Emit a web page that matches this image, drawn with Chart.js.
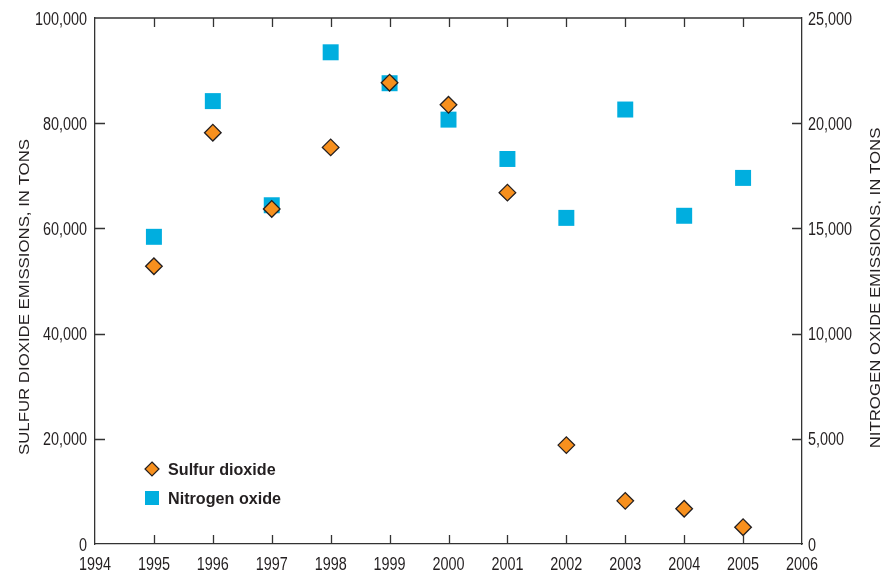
<!DOCTYPE html>
<html>
<head>
<meta charset="utf-8">
<script src="https://cdn.jsdelivr.net/npm/chart.js@4.4.1/dist/chart.umd.min.js"></script>
<style>
  html, body { margin: 0; padding: 0; background: #fff; }
  #wrap { width: 881px; height: 571px; }
</style>
</head>
<body>
<div id="wrap"><canvas id="emissionsChart" width="881" height="571"></canvas></div>
<script>
// data ----------------------------------------------------------------------
const years = [1995, 1996, 1997, 1998, 1999, 2000, 2001, 2002, 2003, 2004, 2005];
const sulfurDioxide = [52800, 78200, 63700, 75400, 87700, 83500, 66800, 18800, 8200, 6700, 3200];
const nitrogenOxide = [14600, 21050, 16100, 23370, 21900, 20170, 18300, 15500, 20650, 15600, 17400];
const seriesNames = ["Sulfur dioxide", "Nitrogen oxide"];
const leftTitle = "SULFUR DIOXIDE EMISSIONS, IN TONS";
const rightTitle = "NITROGEN OXIDE EMISSIONS, IN TONS";

const FONT = "'Liberation Sans', Arial, sans-serif";
const INK = "#231f20";
const AXIS = "#333333";
const ORANGE = "#f7901e";
const BLUE = "#00aedf";

// draw text squeezed sideways, like the condensed face of the original
function squeezed(c, text, x, y, sx, align) {
  c.save();
  c.translate(x, y);
  c.scale(sx, 1);
  c.textAlign = align;
  c.fillText(text, 0, 0);
  c.restore();
}

document.addEventListener("DOMContentLoaded", function () {
  const ctx = document.getElementById("emissionsChart").getContext("2d");

  // inward tick marks, top border, tick labels, titles and the inset legend
  const frame = {
    id: "frame",
    afterDraw(chart) {
      const c = chart.ctx;
      const area = chart.chartArea;
      const x = chart.scales.x, y = chart.scales.y, y1 = chart.scales.y1;
      c.save();
      c.strokeStyle = AXIS;
      c.lineWidth = 1.3;
      c.beginPath();
      c.moveTo(area.left, area.top);
      c.lineTo(area.right, area.top);
      x.ticks.forEach(function (t) {
        if (t.value === x.min || t.value === x.max) return;
        const px = Math.round(x.getPixelForValue(t.value)) + 0.5;
        c.moveTo(px, area.bottom);
        c.lineTo(px, area.bottom - 9);
        c.moveTo(px, area.top);
        c.lineTo(px, area.top + 9);
      });
      y.ticks.forEach(function (t) {
        if (t.value === y.min || t.value === y.max) return;
        const py = Math.round(y.getPixelForValue(t.value)) + 0.5;
        c.moveTo(area.left, py);
        c.lineTo(area.left + 10, py);
      });
      y1.ticks.forEach(function (t) {
        if (t.value === y1.min || t.value === y1.max) return;
        const py = Math.round(y1.getPixelForValue(t.value)) + 0.5;
        c.moveTo(area.right, py);
        c.lineTo(area.right - 10, py);
      });
      c.stroke();

      // tick labels
      c.fillStyle = INK;
      c.font = "18px " + FONT;
      c.textBaseline = "alphabetic";
      x.ticks.forEach(function (t) {
        squeezed(c, String(t.value), x.getPixelForValue(t.value), area.bottom + 26, 0.8, "center");
      });
      y.ticks.forEach(function (t) {
        squeezed(c, t.value.toLocaleString("en-US"), area.left - 8, y.getPixelForValue(t.value) + 6.5, 0.8, "right");
      });
      y1.ticks.forEach(function (t) {
        squeezed(c, t.value.toLocaleString("en-US"), area.right + 6, y1.getPixelForValue(t.value) + 6.5, 0.8, "left");
      });

      // axis titles, both reading upward
      c.font = "14.5px " + FONT;
      const sx = 316 / c.measureText(leftTitle).width;
      c.save();
      c.translate(28.5, 297);
      c.rotate(-Math.PI / 2);
      squeezed(c, leftTitle, 0, 0, sx, "center");
      c.restore();
      c.save();
      c.translate(879.5, 288);
      c.rotate(-Math.PI / 2);
      squeezed(c, rightTitle, 0, 0, sx, "center");
      c.restore();

      // legend
      const lx = 152, ly = 469;
      c.fillStyle = ORANGE;
      c.strokeStyle = INK;
      c.lineWidth = 1.2;
      c.beginPath();
      c.moveTo(lx, ly - 7);
      c.lineTo(lx + 7, ly);
      c.lineTo(lx, ly + 7);
      c.lineTo(lx - 7, ly);
      c.closePath();
      c.fill();
      c.stroke();
      c.fillStyle = BLUE;
      c.fillRect(lx - 7, ly + 22, 14, 14);
      c.fillStyle = INK;
      c.font = "bold 17px " + FONT;
      squeezed(c, seriesNames[0], lx + 16, ly + 6, 0.95, "left");
      squeezed(c, seriesNames[1], lx + 16, ly + 35, 0.95, "left");
      c.restore();
    },
  };

  const config = {
    type: "scatter",
    data: {
      datasets: [
        {
          label: seriesNames[0],
          data: years.map(function (yr, i) { return { x: yr, y: sulfurDioxide[i] }; }),
          yAxisID: "y",
          pointStyle: "rectRot",
          pointRadius: 8.3,
          pointHoverRadius: 8.3,
          backgroundColor: ORANGE,
          borderColor: INK,
          borderWidth: 1.3,
        },
        {
          label: seriesNames[1],
          data: years.map(function (yr, i) { return { x: yr, y: nitrogenOxide[i] }; }),
          yAxisID: "y1",
          pointStyle: "rect",
          pointRadius: 11.3,
          pointHoverRadius: 11.3,
          backgroundColor: BLUE,
          borderColor: BLUE,
          borderWidth: 0,
        },
      ],
    },
    options: {
      responsive: false,
      animation: false,
      layout: { padding: { top: 18, right: 0, left: 0, bottom: 0 } },
      plugins: {
        legend: { display: false },
        tooltip: { enabled: false },
      },
      scales: {
        x: {
          type: "linear",
          position: "bottom",
          min: 1994,
          max: 2006,
          grid: { display: false },
          border: { display: true, color: AXIS, width: 1.3 },
          ticks: { display: false, stepSize: 1 },
          afterFit: function (s) { s.height = 27; },
        },
        y: {
          position: "left",
          min: 0,
          max: 100000,
          grid: { display: false },
          border: { display: true, color: AXIS, width: 1.3 },
          ticks: { display: false, stepSize: 20000 },
          afterFit: function (s) { s.width = 95; },
        },
        y1: {
          position: "right",
          min: 0,
          max: 25000,
          grid: { display: false },
          border: { display: true, color: AXIS, width: 1.3 },
          ticks: { display: false, stepSize: 5000 },
          afterFit: function (s) { s.width = 79; },
        },
      },
    },
    plugins: [frame],
  };

  new Chart(ctx, config);
});
</script>
</body>
</html>
